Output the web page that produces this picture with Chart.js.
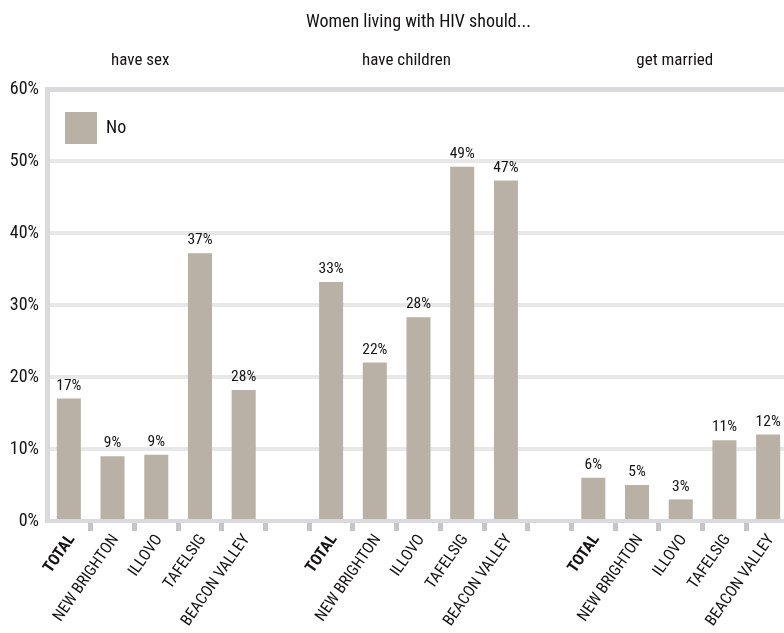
<!DOCTYPE html>
<html>
<head>
<meta charset="utf-8">
<script src="https://cdn.jsdelivr.net/npm/chart.js@4/dist/chart.umd.min.js"></script>
<style>
  html, body { margin: 0; padding: 0; background: #ffffff; overflow: hidden; }
  #wrap { position: relative; width: 800px; height: 633px; }
</style>
</head>
<body>
<div id="wrap"><canvas id="c"></canvas></div>
<script>
// ---- data ----
const chartTitle = 'Women living with HIV should...';
const groupHeaders = ['have sex', 'have children', 'get married'];
const sites = ['TOTAL', 'NEW BRIGHTON', 'ILLOVO', 'TAFELSIG', 'BEACON VALLEY'];
const seriesName = 'No';
const haveSex = [17, 9, 9.2, 37.2, 18.2];
const haveSexLabels = ['17%', '9%', '9%', '37%', '28%'];
const haveChildren = [33.2, 22, 28.3, 49.2, 47.3];
const haveChildrenLabels = ['33%', '22%', '28%', '49%', '47%'];
const getMarried = [6, 5, 3, 11.2, 12];
const getMarriedLabels = ['6%', '5%', '3%', '11%', '12%'];
const yTicks = [0, 10, 20, 30, 40, 50, 60];

// ---- build ----
const categories = sites.concat([''], sites, [''], sites);
const values = haveSex.concat([null], haveChildren, [null], getMarried);
const valueLabels = haveSexLabels.concat([''], haveChildrenLabels, [''], getMarriedLabels);

const FONT = '"Roboto Condensed", "Open Sans Condensed", "DejaVu Sans Condensed", sans-serif';
const TEXT = '#141213';
const BAR = '#b9b1a5';
const AXIS = '#d9d9de';
const GRID = '#e8e8e8';
const TICK = '#c5c5c9';

const barLabels = {
  id: 'barLabels',
  afterDatasetsDraw(chart) {
    const ctx = chart.ctx;
    const meta = chart.getDatasetMeta(0);
    ctx.save();
    ctx.font = '15.5px ' + FONT;
    ctx.fillStyle = TEXT;
    ctx.textAlign = 'center';
    ctx.textBaseline = 'bottom';
    meta.data.forEach((bar, i) => {
      const t = valueLabels[i];
      if (!t || values[i] == null) return;
      ctx.fillText(t, bar.x, bar.y - 5);
    });
    ctx.restore();
  }
};

const headers = {
  id: 'headers',
  afterDraw(chart) {
    const ctx = chart.ctx;
    const x = chart.scales.x;
    ctx.save();
    ctx.fillStyle = TEXT;
    ctx.textAlign = 'center';
    ctx.textBaseline = 'middle';
    ctx.font = '18px ' + FONT;
    ctx.fillText(chartTitle, x.getPixelForValue(8), 22);
    ctx.font = '17px ' + FONT;
    const centers = [2, 8, 14];
    const nudge = [-16, -12, -6];
    groupHeaders.forEach((h, i) => {
      ctx.fillText(h, x.getPixelForValue(centers[i]) + nudge[i], 61);
    });
    ctx.restore();
  }
};

// place the legend inside the plot area (top-left corner)
const legendInArea = {
  id: 'legendInArea',
  afterLayout(chart) {
    const l = chart.legend;
    const a = chart.chartArea;
    if (!l) return;
    const dx = (a.left - 2) - l.left;
    const dy = (a.top + 3) - l.top;
    l.left += dx; l.right += dx;
    l.top += dy; l.bottom += dy;
    if (l.legendHitBoxes) l.legendHitBoxes.forEach(h => { h.left += dx; h.top += dy; });
  }
};

new Chart(document.getElementById('c'), {
  type: 'bar',
  data: {
    labels: categories,
    datasets: [{
      label: seriesName,
      data: values,
      backgroundColor: BAR,
      borderWidth: 0,
      categoryPercentage: 1,
      barPercentage: 0.55
    }]
  },
  options: {
    responsive: true,
    maintainAspectRatio: false,
    animation: false,
    layout: { padding: { top: 89, right: 10, left: 0, bottom: 0 } },
    plugins: {
      title: { display: false },
      tooltip: { enabled: false },
      legend: {
        display: true,
        position: 'chartArea',
        align: 'start',
        labels: {
          boxWidth: 32,
          boxHeight: 32,
          padding: 20,
          color: TEXT,
          font: { family: FONT, size: 18 }
        }
      }
    },
    scales: {
      x: {
        offset: true,
        afterFit: s => { s.height = 112; },
        grid: {
          offset: true,
          drawOnChartArea: false,
          drawTicks: true,
          tickLength: 10,
          tickWidth: 5,
          tickColor: c => (c.index === 0 ? 'rgba(0,0,0,0)' : TICK)
        },
        border: { display: true, color: AXIS, width: 4 },
        ticks: {
          autoSkip: false,
          maxRotation: 55,
          minRotation: 55,
          padding: 0,
          labelOffset: 3,
          color: TEXT,
          font: c => ({ family: FONT, size: 16, weight: c.tick && c.tick.label === 'TOTAL' ? 'bold' : 'normal' })
        }
      },
      y: {
        min: 0,
        max: 60,
        afterFit: s => { s.width = 47; },
        afterBuildTicks: s => { s.ticks = yTicks.map(v => ({ value: v })); },
        grid: {
          drawTicks: false,
          color: c => (c.tick && c.tick.value === 60 ? AXIS : (c.tick && c.tick.value === 0 ? 'rgba(0,0,0,0)' : GRID)),
          lineWidth: c => (c.tick && c.tick.value === 60 ? 5 : 4)
        },
        border: { display: true, color: AXIS, width: 5 },
        ticks: {
          padding: 8,
          color: TEXT,
          font: { family: FONT, size: 18 },
          callback: v => v + '%'
        }
      }
    }
  },
  plugins: [barLabels, headers, legendInArea]
});
</script>
</body>
</html>
